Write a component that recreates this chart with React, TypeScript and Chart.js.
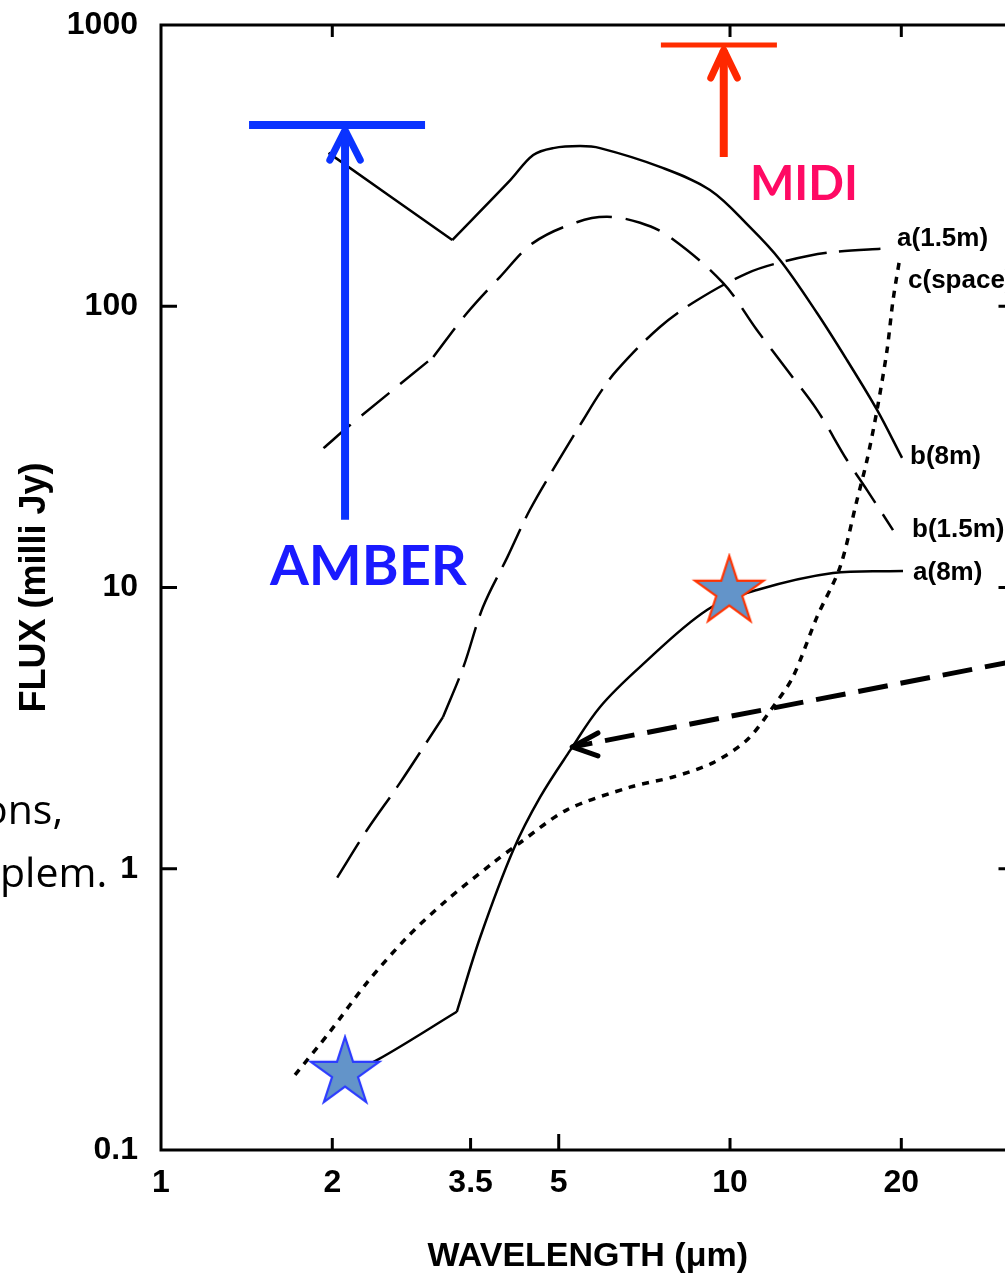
import React, { useEffect, useRef } from "react";
import { Chart, registerables } from "chart.js";

Chart.register(...registerables);

// ---------------- axes ----------------
const xTickValues = [1, 2, 3.5, 5, 10, 20];
const xTickLabels = ["1", "2", "3.5", "5", "10", "20"];
const yTickValues = [0.1, 1, 10, 100, 1000];
const yTickLabels = ["0.1", "1", "10", "100", "1000"];
const topTickValues = [2, 10, 20];
const rightTickValues = [1, 10, 100];
const X_MIN = 1;
const X_MAX = 31.62;
const Y_MIN = 0.1;
const Y_MAX = 1000;
const X_TITLE = "WAVELENGTH (μm)";
const Y_TITLE = "FLUX (milli Jy)";

// ---------------- curves (wavelength µm, flux mJy) ----------------
// b(8m) – solid
const b8mWave = [1.97, 3.25, 4.11, 4.51, 4.89, 5.45, 5.91, 7.53, 9.22, 10.84, 12.24, 14.22, 16.05, 18.13, 20.06];
const b8mFlux = [351, 172, 281, 345, 365, 371, 365, 313, 259, 191, 146, 94.6, 64.4, 42.8, 28.9];
const b8mKink = 1;

// b(1.5m) – dashed
const b15Wave = [1.93, 2.15, 3.01, 3.45, 3.94, 4.51, 5.38, 6.08, 6.95, 7.85, 9.72, 11.15, 12.6, 14.22, 16.05, 17.41, 19.34];
const b15Flux = [31.3, 37.8, 66, 94.6, 127, 168, 199, 208, 198, 176, 121, 82.3, 59.3, 42.8, 28.4, 22.2, 16.0];
const b15Kink = 2;

// a(1.5m) – long dashed
const a15Wave = [2.04, 2.3, 2.63, 3.13, 3.4, 3.68, 4.06, 4.45, 5.09, 5.52, 5.91, 6.33, 7.53, 8.75, 10.71, 12.39, 14.81, 19.11];
const a15Flux = [0.93, 1.37, 2.02, 3.46, 5.22, 8.52, 12.8, 18.9, 30.1, 39.4, 49.2, 59.3, 84.4, 105, 131, 144, 155, 161];
const a15Kink = 3;

// a(8m) – solid
const a8mWave = [2.02, 2.4, 3.31, 3.64, 4.16, 4.64, 5.24, 5.91, 6.95, 9.11, 11.15, 15.17, 20.14];
const a8mFlux = [0.177, 0.209, 0.31, 0.572, 1.166, 1.8, 2.64, 3.76, 5.22, 8.32, 9.8, 11.26, 11.44];
const a8mKink = 2;

// c(space) – dotted
const cspWave = [1.72, 1.98, 2.3, 2.71, 3.18, 3.83, 4.27, 5.17, 6.67, 7.94, 9.33, 10.71, 11.9, 12.9, 14.22, 15.61, 16.72, 17.41, 18.13, 18.88, 19.34, 19.9];
const cspFlux = [0.185, 0.263, 0.393, 0.572, 0.774, 1.048, 1.235, 1.62, 1.95, 2.12, 2.38, 2.87, 3.76, 4.81, 7.86, 11.83, 20.5, 28.4, 42.8, 69.9, 105, 150];

// curve end labels
const curveLabelTexts = ["a(1.5m)", "c(space)", "b(8m)", "b(1.5m)", "a(8m)"];
const curveLabelWave = [19.66, 20.55, 20.72, 20.89, 20.97];
const curveLabelFlux = [173.4, 123, 29.1, 16.1, 11.26];

// ---------------- overlays ----------------
const amberBarWave = [1.428, 2.911];
const amberBarFlux = [441, 441];
const amberShaftWave = [2.106, 2.106];
const amberShaftFlux = [17.4, 423];
const amberHeadWave = [1.98, 2.106, 2.24];
const amberHeadFlux = [331, 423, 331];
const amberText = "AMBER";
const amberTextAt = [1.554, 10.2];

const midiBarWave = [7.56, 12.09];
const midiBarFlux = [849, 849];
const midiShaftWave = [9.75, 9.75];
const midiShaftFlux = [339.5, 815];
const midiHeadWave = [9.25, 9.75, 10.3];
const midiHeadFlux = [648, 815, 648];
const midiText = "MIDI";
const midiTextAt = [10.84, 238.7];

const pointerWave = [31.6, 5.28];
const pointerFlux = [5.47, 2.71];
const pointerHeadWave = [5.86, 5.28, 5.86];
const pointerHeadFlux = [3.04, 2.71, 2.52];

const starWave = [2.106, 9.97];
const starFlux = [0.188, 9.65];
const starEdge = ["#2B3BFF", "#FF3300"];

const fragmentTexts = ["ons,", "plem."];

const pts = (w: number[], f: number[]) => w.map((x, i) => ({ x, y: f[i] }));

function makeStar(fill: string, stroke: string, R: number) {
  const size = Math.ceil(2 * R + 6);
  const c = document.createElement("canvas");
  c.width = size;
  c.height = size;
  const g = c.getContext("2d")!;
  const cx = size / 2;
  const cy = size / 2;
  g.beginPath();
  for (let i = 0; i < 10; i++) {
    const r = i % 2 === 0 ? R : R * 0.38;
    const a = -Math.PI / 2 + (i * Math.PI) / 5;
    g.lineTo(cx + r * Math.cos(a), cy + r * Math.sin(a));
  }
  g.closePath();
  g.fillStyle = fill;
  g.fill();
  g.lineWidth = 2.2;
  g.strokeStyle = stroke;
  g.stroke();
  return c;
}

function curveDatasets(name: string, w: number[], f: number[], kink: number | null, style: any) {
  const all = pts(w, f);
  const parts = kink == null ? [all] : [all.slice(0, kink + 1), all.slice(kink)];
  return parts.map((p) => ({
    label: name,
    data: p,
    showLine: true,
    pointRadius: 0,
    borderColor: "#000",
    backgroundColor: "#000",
    fill: false,
    tension: 0.35,
    order: 3,
    ...style,
  }));
}

const LABEL_FONT = '"Liberation Sans", Arial, sans-serif';

const framePlugin = {
  id: "frame",
  afterDatasetsDraw(chart: any) {
    const { ctx, chartArea: a, scales } = chart;
    const xs = scales.x;
    const ys = scales.y;
    ctx.save();
    ctx.strokeStyle = "#000";
    ctx.lineWidth = 3;
    ctx.lineCap = "square";
    ctx.beginPath();
    ctx.moveTo(a.left, a.top);
    ctx.lineTo(a.left, a.bottom);
    ctx.lineTo(a.right, a.bottom);
    ctx.lineTo(a.right, a.top);
    ctx.closePath();
    ctx.stroke();
    ctx.lineCap = "butt";
    ctx.beginPath();
    yTickValues.forEach((v) => {
      if (v <= Y_MIN || v >= Y_MAX) return;
      const py = ys.getPixelForValue(v);
      ctx.moveTo(a.left, py);
      ctx.lineTo(a.left + 16, py);
    });
    rightTickValues.forEach((v) => {
      const py = ys.getPixelForValue(v);
      ctx.moveTo(a.right, py);
      ctx.lineTo(a.right - 16, py);
    });
    xTickValues.forEach((v) => {
      if (v <= X_MIN) return;
      const px = xs.getPixelForValue(v);
      ctx.moveTo(px, a.bottom);
      ctx.lineTo(px, a.bottom - (v === 5 ? 16 : 12));
    });
    topTickValues.forEach((v) => {
      const px = xs.getPixelForValue(v);
      ctx.moveTo(px, a.top);
      ctx.lineTo(px, a.top + 12);
    });
    ctx.stroke();
    ctx.restore();
  },
  afterDraw(chart: any) {
    const { ctx, scales } = chart;
    const xs = scales.x;
    const ys = scales.y;
    ctx.save();
    // curve labels
    ctx.fillStyle = "#000";
    ctx.font = `bold 26px ${LABEL_FONT}`;
    ctx.textAlign = "left";
    ctx.textBaseline = "middle";
    curveLabelTexts.forEach((t, i) => {
      ctx.fillText(t, xs.getPixelForValue(curveLabelWave[i]), ys.getPixelForValue(curveLabelFlux[i]));
    });
    // instrument labels
    ctx.textBaseline = "alphabetic";
    ctx.font = 'bold 56px Lato, "Open Sans", sans-serif';
    ctx.fillStyle = "#1A1AFF";
    ctx.fillText(amberText, xs.getPixelForValue(amberTextAt[0]), ys.getPixelForValue(amberTextAt[1]));
    ctx.font = 'bold 47px Lato, "Open Sans", sans-serif';
    ctx.fillStyle = "#FF0A64";
    ctx.fillText(midiText, xs.getPixelForValue(midiTextAt[0]), ys.getPixelForValue(midiTextAt[1]));
    // clipped slide text fragments on the left
    ctx.fillStyle = "#000";
    ctx.font = '41px "Open Sans", sans-serif';
    ctx.textAlign = "right";
    ctx.fillText(fragmentTexts[0], 63, 824);
    ctx.textAlign = "left";
    ctx.fillText(fragmentTexts[1], 0, 887);
    ctx.restore();
  },
};

export default function App() {
  const ref = useRef<HTMLCanvasElement | null>(null);

  useEffect(() => {
    const canvas = ref.current;
    if (!canvas) return;
    const blueStar = makeStar("#6394C9", starEdge[0], 36);
    const redStar = makeStar("#6394C9", starEdge[1], 36);

    const datasets: any[] = [
      {
        label: "stars",
        data: pts(starWave, starFlux),
        showLine: false,
        pointStyle: [blueStar, redStar],
        pointRadius: 10,
        order: 0,
      },
      // AMBER
      { label: "AMBER bar", data: pts(amberBarWave, amberBarFlux), showLine: true, pointRadius: 0, borderColor: "#0A33FF", borderWidth: 8, order: 1 },
      { label: "AMBER arrow", data: pts(amberShaftWave, amberShaftFlux), showLine: true, pointRadius: 0, borderColor: "#0A33FF", borderWidth: 8, order: 1 },
      { label: "AMBER head", data: pts(amberHeadWave, amberHeadFlux), showLine: true, pointRadius: 0, borderColor: "#0A33FF", borderWidth: 7, borderCapStyle: "round", borderJoinStyle: "round", order: 1 },
      // MIDI
      { label: "MIDI bar", data: pts(midiBarWave, midiBarFlux), showLine: true, pointRadius: 0, borderColor: "#FF2D00", borderWidth: 5, order: 1 },
      { label: "MIDI arrow", data: pts(midiShaftWave, midiShaftFlux), showLine: true, pointRadius: 0, borderColor: "#FF2800", borderWidth: 8, order: 1 },
      { label: "MIDI head", data: pts(midiHeadWave, midiHeadFlux), showLine: true, pointRadius: 0, borderColor: "#FF2800", borderWidth: 7, borderCapStyle: "round", borderJoinStyle: "round", order: 1 },
      // pointer
      { label: "pointer", data: pts(pointerWave, pointerFlux), showLine: true, pointRadius: 0, borderColor: "#000", borderWidth: 5, borderDash: [30, 13], order: 1 },
      { label: "pointer head", data: pts(pointerHeadWave, pointerHeadFlux), showLine: true, pointRadius: 0, borderColor: "#000", borderWidth: 5, borderCapStyle: "round", borderJoinStyle: "round", order: 1 },
      ...curveDatasets("b(8m)", b8mWave, b8mFlux, b8mKink, { borderWidth: 2.5 }),
      ...curveDatasets("b(1.5m)", b15Wave, b15Flux, b15Kink, { borderWidth: 2.5, borderDash: [36, 14] }),
      ...curveDatasets("a(1.5m)", a15Wave, a15Flux, a15Kink, { borderWidth: 2.5, borderDash: [42, 12] }),
      ...curveDatasets("a(8m)", a8mWave, a8mFlux, a8mKink, { borderWidth: 2.5 }),
      ...curveDatasets("c(space)", cspWave, cspFlux, null, { borderWidth: 3.5, borderDash: [7, 7], tension: 0.3 }),
    ];

    const tickFont = { family: LABEL_FONT, size: 32, weight: "bold" as const };

    const chart = new Chart(canvas, {
      type: "scatter",
      data: { datasets },
      plugins: [framePlugin],
      options: {
        animation: false,
        responsive: false,
        maintainAspectRatio: false,
        layout: { padding: { top: 25, right: 25.5, left: 0, bottom: 0 } },
        plugins: { legend: { display: false }, tooltip: { enabled: false } },
        scales: {
          x: {
            type: "logarithmic",
            position: "bottom",
            min: X_MIN,
            max: X_MAX,
            grid: { display: false, drawTicks: false },
            border: { display: false },
            afterBuildTicks: (s: any) => {
              s.ticks = xTickValues.map((v) => ({ value: v }));
            },
            afterFit: (s: any) => {
              s.height = 127;
              s.paddingLeft = 0;
              s.paddingRight = 0;
            },
            ticks: {
              autoSkip: false,
              maxRotation: 0,
              minRotation: 0,
              padding: 14,
              color: "#000",
              font: tickFont,
              callback: (v: any) => {
                const i = xTickValues.indexOf(Number(v));
                return i >= 0 ? xTickLabels[i] : "";
              },
            },
            title: {
              display: true,
              text: X_TITLE,
              color: "#000",
              font: { family: LABEL_FONT, size: 34, weight: "bold" },
              padding: { top: 0, bottom: 0 },
            },
          },
          y: {
            type: "logarithmic",
            position: "left",
            min: Y_MIN,
            max: Y_MAX,
            grid: { display: false, drawTicks: false },
            border: { display: false },
            afterBuildTicks: (s: any) => {
              s.ticks = yTickValues.map((v) => ({ value: v }));
            },
            afterFit: (s: any) => {
              s.width = 161;
              s.paddingTop = 0;
              s.paddingBottom = 0;
            },
            ticks: {
              autoSkip: false,
              padding: 23,
              color: "#000",
              font: tickFont,
              callback: (v: any) => {
                const i = yTickValues.findIndex((t) => Math.abs(t - Number(v)) < 1e-9 * Math.max(1, t));
                return i >= 0 ? yTickLabels[i] : "";
              },
            },
            title: {
              display: true,
              text: Y_TITLE,
              color: "#000",
              font: { family: LABEL_FONT, size: 36, weight: "bold" },
              padding: { top: 13, bottom: 0 },
            },
          },
        },
      },
    } as any);

    return () => chart.destroy();
  }, []);

  return (
    <div
      style={{
        position: "absolute",
        left: 0,
        top: 0,
        width: 1005,
        height: 1277,
        overflow: "hidden",
        background: "#fff",
      }}
    >
      <canvas ref={ref} width={1040} height={1277} style={{ display: "block" }} />
    </div>
  );
}
